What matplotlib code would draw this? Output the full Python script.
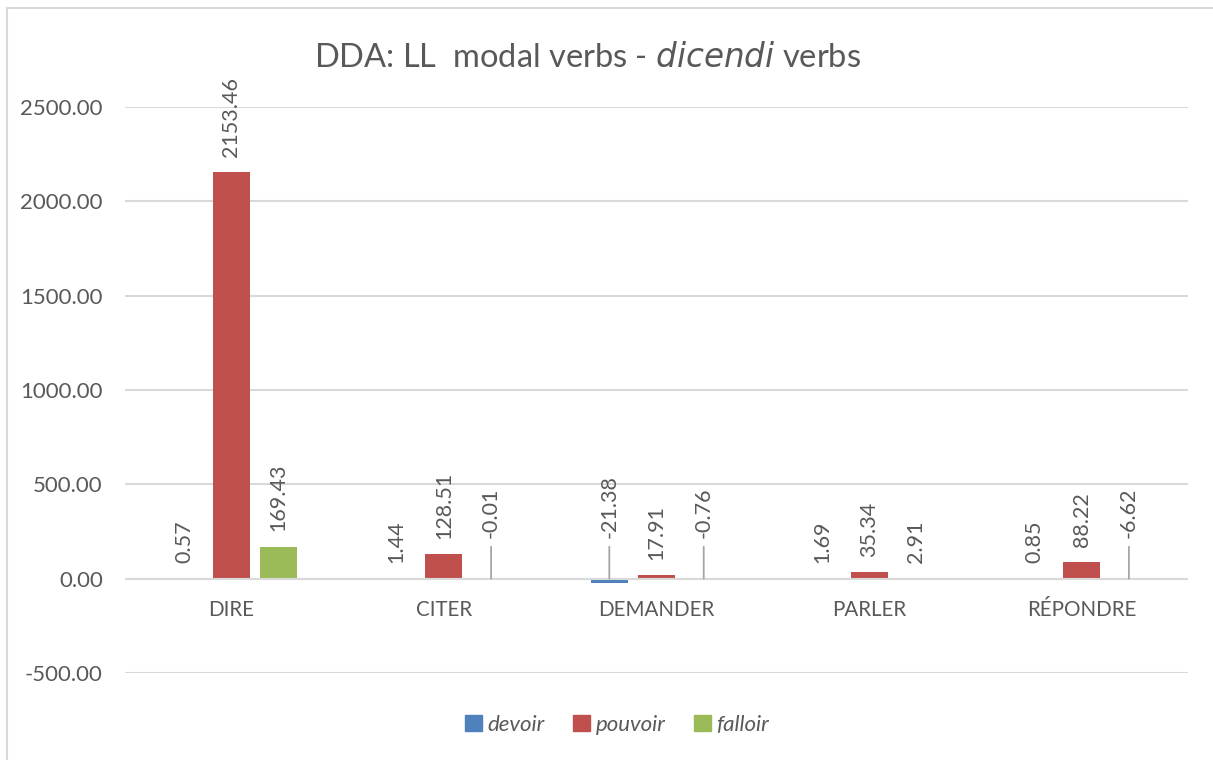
import matplotlib

matplotlib.use("Agg")
import matplotlib.pyplot as plt
from matplotlib.lines import Line2D
import numpy as np

CATEGORIES = ["DIRE", "CITER", "DEMANDER", "PARLER", "RÉPONDRE"]
SERIES = ["devoir", "pouvoir", "falloir"]
DEVOIR = [0.57, 1.44, -21.38, 1.69, 0.85]
POUVOIR = [2153.46, 128.51, 17.91, 35.34, 88.22]
FALLOIR = [169.43, -0.01, -0.76, 2.91, -6.62]
Y_TICKS = [-500, 0, 500, 1000, 1500, 2000, 2500]

COLORS = ["#4F81BD", "#C0504D", "#9BBB59"]
TEXT = "#595959"
GRID = "#D9D9D9"

plt.rcParams["font.family"] = ["Lato", "DejaVu Sans"]

fig = plt.figure(figsize=(12.13, 7.6), dpi=100)
ax = fig.add_axes([125 / 1213, 1 - 673 / 760, 1063 / 1213, (673 - 107) / 760])

x = np.arange(len(CATEGORIES))
width = 0.174
offsets = [-0.222, 0.0, 0.222]
for series_values, off, color, name in zip((DEVOIR, POUVOIR, FALLOIR), offsets, COLORS, SERIES):
    ax.bar(x + off, series_values, width, color=color, label=name, zorder=3)
    for xi, v in zip(x + off, series_values):
        label = f"{v:.2f}"
        if v < 0:
            # label lifted above the axis with a leader line, Excel style
            ax.annotate(label, xy=(xi, 0), xytext=(0, 29), textcoords="offset points",
                        rotation=90, ha="center", va="bottom", fontsize=15.5, color=TEXT,
                        arrowprops=dict(arrowstyle="-", color="#A6A6A6", lw=1.3,
                                        shrinkA=4, shrinkB=0), zorder=5)
        else:
            ax.annotate(label, xy=(xi, v), xytext=(0, 11), textcoords="offset points",
                        rotation=90, ha="center", va="bottom", fontsize=15.5, color=TEXT,
                        zorder=5)

ax.set_xlim(-0.5, len(CATEGORIES) - 0.5)
ax.set_ylim(-500, 2500)
ax.set_yticks(Y_TICKS)
ax.set_yticklabels([f"{t:.2f}" for t in Y_TICKS])
ax.yaxis.grid(True, color=GRID, linewidth=1.5, zorder=0)
ax.axhline(0, color=GRID, linewidth=1.5, zorder=4)
ax.set_xticks([])
for xi, cat in zip(x, CATEGORIES):
    ax.annotate(cat, xy=(xi, 0), xytext=(0, -15), textcoords="offset points",
                ha="center", va="top", fontsize=14.8, color=TEXT)
ax.tick_params(axis="both", length=0, labelsize=16, colors=TEXT)
ax.tick_params(axis="y", pad=16)
for spine in ax.spines.values():
    spine.set_visible(False)

fig.text(588 / 1213, 1 - 58 / 760, "DDA: LL  modal verbs - $\\it{dicendi}$ verbs",
         ha="center", va="center", fontsize=23.5, color=TEXT)

handles = [plt.Rectangle((0, 0), 1, 1, color=c) for c in COLORS]
leg = fig.legend(handles, SERIES, loc="center", bbox_to_anchor=(617 / 1213, 1 - 725 / 760),
                 ncol=3, frameon=False, fontsize=16, handlelength=0.75, handleheight=0.75,
                 handletextpad=0.25, columnspacing=1.3)
for t in leg.get_texts():
    t.set_color(TEXT)
    t.set_style("italic")

fig.add_artist(Line2D([7 / 1213, 7 / 1213], [0, 1 - 8 / 760], transform=fig.transFigure,
                      color=GRID, linewidth=1.5))
fig.add_artist(Line2D([7 / 1213, 1], [1 - 8 / 760, 1 - 8 / 760], transform=fig.transFigure,
                      color=GRID, linewidth=1.5))

fig.savefig("out.png", dpi=100, facecolor="white")
